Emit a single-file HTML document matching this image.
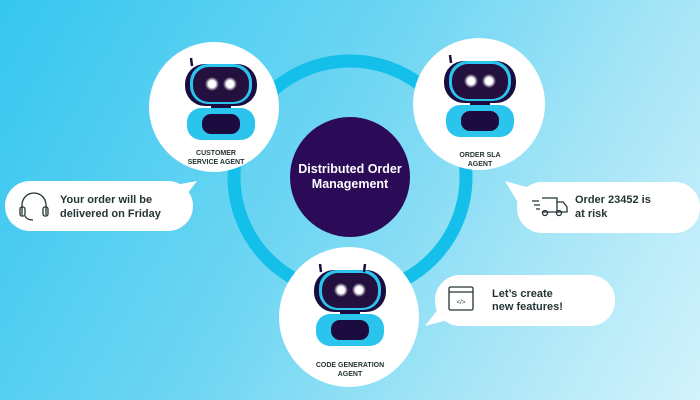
<!DOCTYPE html>
<html><head><style>
html,body{margin:0;padding:0}
body{width:700px;height:400px;overflow:hidden;background:linear-gradient(120deg,#35c6ef 0%,#6fd6f3 45%,#a9e6f7 75%,#d2f3fb 100%);font-family:"Liberation Sans",sans-serif}
svg{display:block}
</style></head><body>
<svg width="700" height="400" viewBox="0 0 700 400" xmlns="http://www.w3.org/2000/svg">
<defs>
<radialGradient id="eye"><stop offset="0" stop-color="#fff"/><stop offset="0.5" stop-color="#fff"/><stop offset="1" stop-color="#fff" stop-opacity="0"/></radialGradient>
<g id="robot">
<line x1="-29" y1="-22" x2="-30" y2="-30" stroke="#1c0b3e" stroke-width="2.5"/>
<rect x="-36" y="-24" width="72" height="42" rx="20" fill="#1c0b3e"/>
<rect x="-31" y="-24" width="62" height="40" rx="18" fill="#2bc4ec"/>
<rect x="-28" y="-21" width="56" height="35" rx="16" fill="#24103f"/>
<circle cx="-9" cy="-4" r="7" fill="url(#eye)"/>
<circle cx="9" cy="-4" r="7" fill="url(#eye)"/>
<rect x="-10" y="16" width="20" height="6" fill="#1c0b3e"/>
<rect x="-34" y="20" width="68" height="32" rx="14" fill="#2bc4ec"/>
<rect x="-19" y="26" width="38" height="20" rx="9" fill="#1c0b3e"/>
</g>
</defs>
<circle cx="350" cy="177" r="116" fill="none" stroke="#14bfe9" stroke-width="13"/>
<circle cx="350" cy="177" r="60" fill="#2b0a57"/>
<text x="350" y="173" text-anchor="middle" fill="#fff" font-size="12.5" font-weight="bold">Distributed Order</text>
<text x="350" y="188" text-anchor="middle" fill="#fff" font-size="12.5" font-weight="bold">Management</text>

<circle cx="214" cy="107" r="65" fill="#fff"/>
<use href="#robot" x="221" y="88"/>
<text x="216" y="155" text-anchor="middle" fill="#243434" font-size="7" font-weight="bold">CUSTOMER</text>
<text x="216" y="164" text-anchor="middle" fill="#243434" font-size="7" font-weight="bold">SERVICE AGENT</text>

<circle cx="479" cy="104" r="66" fill="#fff"/>
<use href="#robot" x="480" y="85"/>
<text x="480" y="157" text-anchor="middle" fill="#243434" font-size="7" font-weight="bold">ORDER SLA</text>
<text x="480" y="166" text-anchor="middle" fill="#243434" font-size="7" font-weight="bold">AGENT</text>

<circle cx="349" cy="317" r="70" fill="#fff"/>
<use href="#robot" x="350" y="294"/>
<line x1="364" y1="272" x2="365" y2="264" stroke="#1c0b3e" stroke-width="2.5"/>
<text x="350" y="367" text-anchor="middle" fill="#243434" font-size="7" font-weight="bold">CODE GENERATION</text>
<text x="350" y="376" text-anchor="middle" fill="#243434" font-size="7" font-weight="bold">AGENT</text>

<rect x="5" y="181" width="188" height="50" rx="25" fill="#fff"/>
<path d="M170 186 L197 181 L178 206 Z" fill="#fff"/>
<g fill="none" stroke="#243434" stroke-width="1.3">
<path d="M22 215 V205 a12 12 0 0 1 24 0 V215"/>
<rect x="20" y="207" width="5" height="9" rx="2"/><rect x="43" y="207" width="5" height="9" rx="2"/>
<path d="M25 216 q2 4 8 4"/>
</g>
<text x="60" y="203" fill="#243434" font-size="11" font-weight="bold">Your order will be</text>
<text x="60" y="217" fill="#243434" font-size="11" font-weight="bold">delivered on Friday</text>

<rect x="517" y="182" width="183" height="51" rx="25" fill="#fff"/>
<path d="M505 181 L530 188 L520 206 Z" fill="#fff"/>
<g fill="none" stroke="#243434" stroke-width="1.3">
<path d="M542 198 h15 v14 h-15"/><path d="M557 202 h6 l4 5 v5 h-10"/>
<circle cx="545" cy="213" r="2.5"/><circle cx="559" cy="213" r="2.5"/>
<path d="M532 201 h7 M534 205 h6 M536 209 h4"/>
</g>
<text x="575" y="203" fill="#243434" font-size="11" font-weight="bold">Order 23452 is</text>
<text x="575" y="217" fill="#243434" font-size="11" font-weight="bold">at risk</text>

<rect x="435" y="275" width="180" height="51" rx="25" fill="#fff"/>
<path d="M445 300 L425 326 L455 318 Z" fill="#fff"/>
<g fill="none" stroke="#243434" stroke-width="1.3">
<rect x="449" y="287" width="24" height="23" rx="1.5"/><path d="M449 292 h24"/>
</g>
<text x="461" y="304" text-anchor="middle" fill="#243434" font-size="6">&lt;/&gt;</text>
<text x="492" y="297" fill="#243434" font-size="11" font-weight="bold">Let’s create</text>
<text x="492" y="310" fill="#243434" font-size="11" font-weight="bold">new features!</text>
</svg>
</body></html>
